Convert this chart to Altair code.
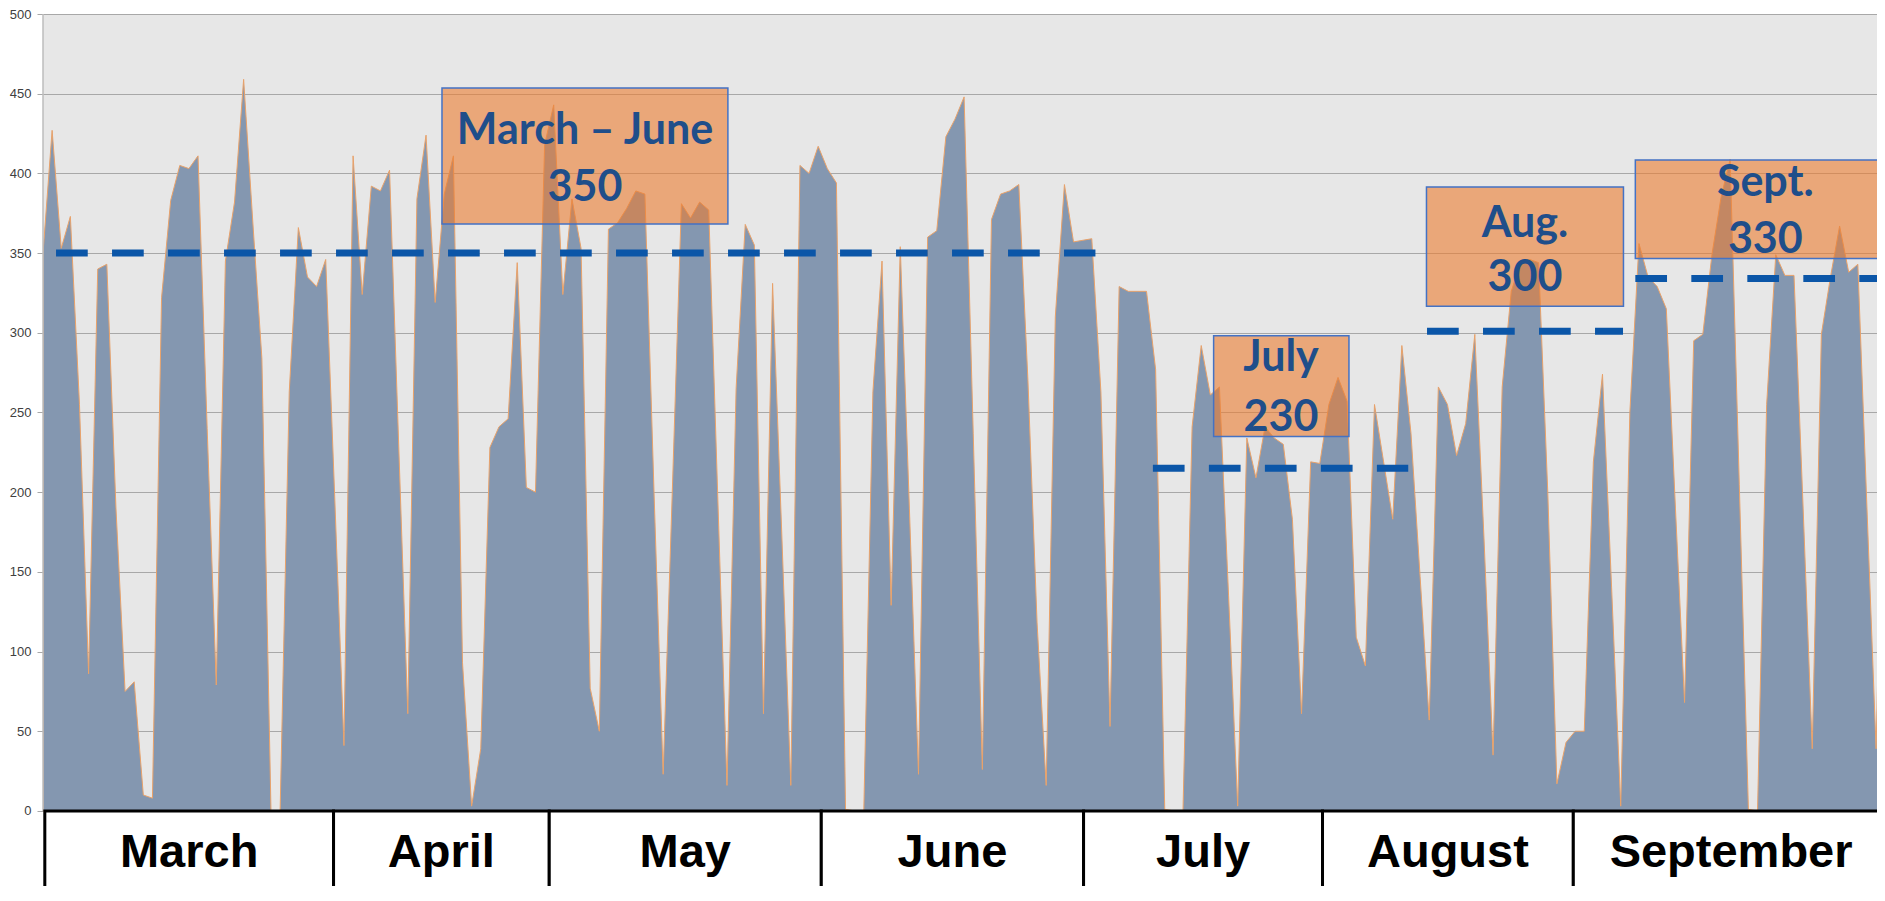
import altair as alt
import pandas as pd

# ---- daily series (one value per day, starting 1 March) ----
values = [
    350, 427, 353, 373, 255, 86, 340, 343, 190, 75,
    81, 10, 8, 322, 383, 405, 403, 411, 240, 79,
    345, 382, 459, 370, 284, 0, 0, 263, 366, 335,
    329, 346, 195, 41, 411, 324, 392, 389, 402, 230,
    61, 384, 424, 319, 387, 411, 93, 3, 39, 228,
    241, 246, 344, 203, 200, 418, 443, 324, 384, 353,
    77, 50, 365, 369, 378, 389, 387, 200, 23, 200,
    381, 372, 382, 377, 195, 16, 265, 368, 355, 61,
    331, 175, 16, 405, 400, 417, 403, 394, 1, 0,
    0, 263, 345, 129, 354, 190, 23, 360, 364, 423,
    434, 448, 237, 26, 371, 387, 389, 393, 270, 118,
    16, 310, 393, 357, 358, 359, 263, 53, 329, 326,
    326, 326, 277, 1, 0, 0, 241, 292, 261, 266,
    135, 3, 234, 209, 241, 234, 230, 183, 61, 219,
    218, 255, 272, 257, 109, 91, 255, 219, 183, 292,
    237, 147, 57, 266, 255, 223, 243, 299, 172, 35,
    266, 326, 344, 346, 344, 200, 17, 43, 50, 50,
    219, 274, 140, 3, 250, 356, 335, 329, 315, 190,
    68, 295, 299, 349, 385, 409, 205, 1, 0, 255,
    349, 336, 336, 190, 39, 299, 335, 367, 338, 343,
    190, 39, 295,
]
days = list(range(len(values)))

# ---- month table below the chart (edges in days) ----
months = ["March", "April", "May", "June", "July", "August", "September"]
month_edges = [0.2, 31.86, 55.51, 85.34, 114.1, 140.3, 167.8, 202.4]

# ---- average annotations ----
avg_line1 = ["March \u2013 June", "July", "Aug.", "Sept."]
avg_line2 = ["350", "230", "300", "330"]
avg_level = [350, 215, 301, 334]
avg_start = [1.43, 121.7, 151.76, 174.6]
avg_end = [115.4, 149.7, 173.25, 215.0]
box_x1 = [43.75, 128.36, 151.7, 174.6]
box_x2 = [75.1, 143.2, 173.3, 215.0]
box_y1 = [368.2, 234.9, 316.7, 346.6]
box_y2 = [453.6, 298.1, 391.5, 408.4]
label_x = [59.43, 135.75, 162.5, 188.85]
line1_y = [418.4, 276.1, 359.9, 385.8]
line2_y = [382.4, 238.5, 326.3, 349.8]

y_ticks = [0, 50, 100, 150, 200, 250, 300, 350, 400, 450, 500]

# ---- tables ----
series = pd.DataFrame({"day": days, "value": values})
table = pd.DataFrame({
    "month": months,
    "x1": month_edges[:-1],
    "x2": month_edges[1:],
    "xc": [(a + b) / 2 for a, b in zip(month_edges[:-1], month_edges[1:])],
    "top": [0] * len(months),
    "bottom": [-80] * len(months),
    "ty": [-35.1] * len(months),
})
avg = pd.DataFrame({"start": avg_start, "end": avg_end, "level": avg_level,
                    "bx1": box_x1, "bx2": box_x2, "by1": box_y1, "by2": box_y2})
avg_text = pd.DataFrame({
    "x": label_x + label_x,
    "y": line1_y + line2_y,
    "t": avg_line1 + avg_line2,
})
axis_line = pd.DataFrame({"x": [0], "y": [0], "y2": [500]})

xs = alt.Scale(domain=[0, 201.1], nice=False, zero=False)
ys = alt.Scale(domain=[-47.1, 500], nice=False, zero=False)
yax = alt.Axis(values=y_ticks, grid=True, gridColor="#A8A8A8", gridWidth=1,
               domain=False, ticks=True, tickSize=6, tickColor="#A8A8A8",
               labelFont="Liberation Sans", labelFontSize=13,
               labelColor="#404040", labelPadding=6, title=None)

area = alt.Chart(series).mark_area(
    color="#8497B0", stroke="#E9A26A", strokeWidth=1, clip=True,
    interpolate="linear", opacity=1
).encode(
    x=alt.X("day:Q", scale=xs, axis=None),
    y=alt.Y("value:Q", scale=ys, axis=yax),
)

dash = alt.Chart(avg).mark_rule(
    color="#0B56A8", strokeWidth=7, strokeDash=[31.7, 24.3]
).encode(
    x=alt.X("start:Q", scale=xs, axis=None),
    x2="end:Q",
    y=alt.Y("level:Q", scale=ys, axis=yax),
)

boxes = alt.Chart(avg).mark_rect(
    fill="#ED7D31", fillOpacity=0.6, stroke="#4472C4", strokeWidth=1.5
).encode(
    x=alt.X("bx1:Q", scale=xs, axis=None),
    x2="bx2:Q",
    y=alt.Y("by1:Q", scale=ys, axis=yax),
    y2="by2:Q",
)

box_text = alt.Chart(avg_text).mark_text(
    font="Lato", fontWeight="bold", fontSize=43, color="#1F4E8A",
    baseline="alphabetic", align="center"
).encode(
    x=alt.X("x:Q", scale=xs, axis=None),
    y=alt.Y("y:Q", scale=ys, axis=yax),
    text="t:N",
)

yline = alt.Chart(axis_line).mark_rule(color="#BDBDBD", strokeWidth=1.5).encode(
    x=alt.X("x:Q", scale=xs, axis=None),
    y=alt.Y("y:Q", scale=ys, axis=yax),
    y2="y2:Q",
)

cells = alt.Chart(table).mark_rect(
    fill="white", stroke="black", strokeWidth=3
).encode(
    x=alt.X("x1:Q", scale=xs, axis=None),
    x2="x2:Q",
    y=alt.Y("top:Q", scale=ys, axis=yax),
    y2="bottom:Q",
)

month_text = alt.Chart(table).mark_text(
    font="Liberation Sans", fontWeight="bold", fontSize=47, color="black",
    baseline="alphabetic", align="center"
).encode(
    x=alt.X("xc:Q", scale=xs, axis=None),
    y=alt.Y("ty:Q", scale=ys, axis=yax),
    text="month:N",
)

chart = alt.layer(area, dash, boxes, box_text, yline, cells, month_text).properties(
    width=1834, height=872,
    padding={"left": 35, "top": 6, "right": 0, "bottom": 0},
    autosize=alt.AutoSizeParams(type="none"),
    background="white",
).configure_view(stroke=None, fill="#E7E7E7")

chart.save("out.html", embed_options={"renderer": "svg", "actions": False})
